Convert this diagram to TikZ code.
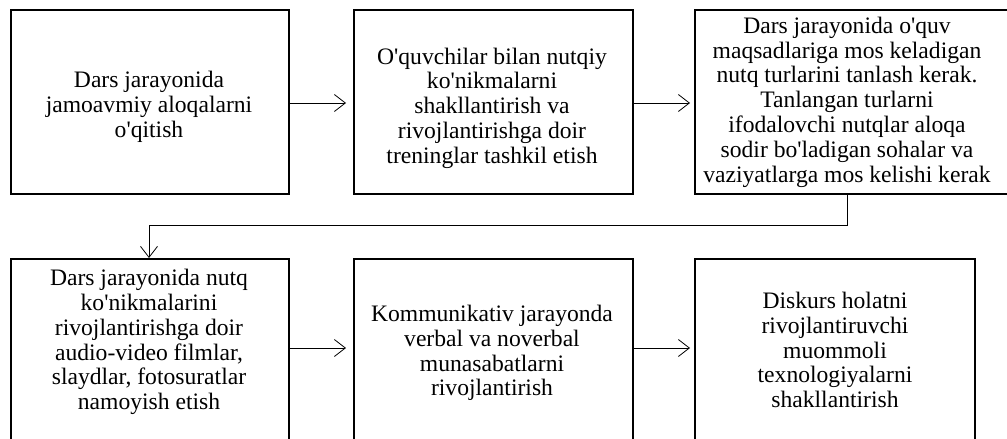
\documentclass[tikz,border=0pt]{standalone}
\usepackage{fontspec}
\setmainfont{Liberation Serif}[Ligatures=TeXOff]
\usetikzlibrary{arrows.meta}
\tikzset{
  frame/.style={draw=black, line width=1.6pt, rectangle, inner sep=0pt, anchor=north west},
  txt/.style={align=center, inner sep=0pt, font=\fontsize{23.6}{24.8}\selectfont},
  arr/.style={draw=black, line width=0.8pt, -{Straight Barb[length=11pt,width=17pt,line width=0.8pt]}},
  link/.style={draw=black, line width=0.8pt}
}
\begin{document}
\begin{tikzpicture}[x=1pt,y=-1pt]
\useasboundingbox (0,0) rectangle (1007,439);
\clip (0,0) rectangle (1007,439);
% top row frames
\node[frame, minimum width=278pt, minimum height=184pt] (b1) at (10,9) {};
\node[frame, minimum width=279pt, minimum height=184pt] (b2) at (353,9) {};
\node[frame, minimum width=330pt, minimum height=184pt] (b3) at (694,9) {};
% bottom row frames (cut by the lower edge)
\node[frame, minimum width=278pt, minimum height=220pt] (b4) at (10,258) {};
\node[frame, minimum width=279pt, minimum height=220pt] (b5) at (353,258) {};
\node[frame, minimum width=280pt, minimum height=220pt] (b6) at (694,258) {};
% texts
\node[txt] (t1) at (149,107) {Dars jarayonida\\jamoavmiy aloqalarni\\o'qitish};
\node[txt] (t2) at (492,108) {O'quvchilar bilan nutqiy\\ko'nikmalarni\\shakllantirish va\\rivojlantirishga doir\\treninglar tashkil etish};
\node[txt] (t3) at (847,102) {Dars jarayonida o'quv\\maqsadlariga mos keladigan\\nutq turlarini tanlash kerak.\\Tanlangan turlarni\\ifodalovchi nutqlar aloqa\\sodir bo'ladigan sohalar va\\vaziyatlarga mos kelishi kerak};
\node[txt] (t4) at (149,342) {Dars jarayonida nutq\\ko'nikmalarini\\rivojlantirishga doir\\audio-video filmlar,\\slaydlar, fotosuratlar\\namoyish etish};
\node[txt] (t5) at (492,353) {Kommunikativ jarayonda\\verbal va noverbal\\munasabatlarni\\rivojlantirish};
\node[txt] (t6) at (835,350) {Diskurs holatni\\rivojlantiruvchi\\muommoli\\texnologiyalarni\\shakllantirish};
% connectors
\coordinate (r1) at (0,103);
\coordinate (r2) at (0,348);
\coordinate (c1) at (847,225);
\coordinate (c2) at (149,225);
\draw[arr, shorten >=7pt] (b1.east |- r1) -- (b2.west |- r1);
\draw[arr, shorten >=4pt] (b2.east |- r1) -- (b3.west |- r1);
\draw[link] (b3.south west -| c1) -- (c1) -- (c2);
\draw[arr] (c2) -- (c2 |- b4.north);
\draw[arr, shorten >=7pt] (b4.east |- r2) -- (b5.west |- r2);
\draw[arr, shorten >=4pt] (b5.east |- r2) -- (b6.west |- r2);
\end{tikzpicture}
\end{document}
